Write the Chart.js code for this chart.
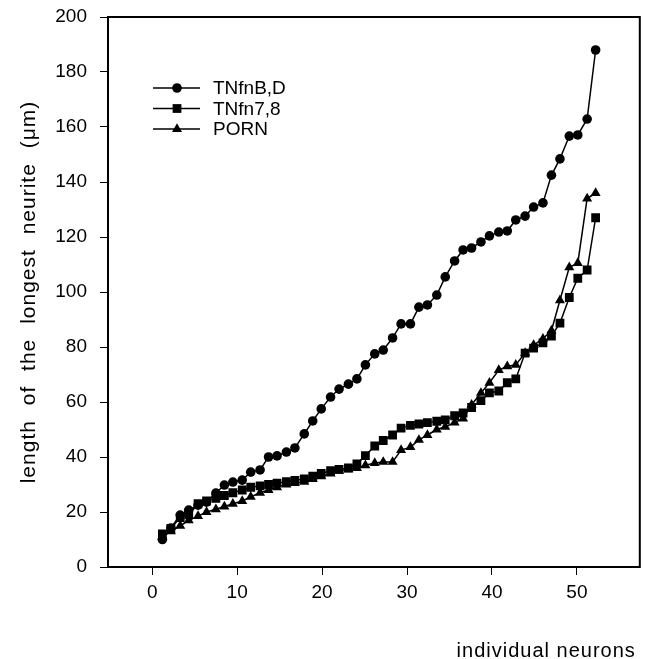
<!DOCTYPE html>
<html>
<head>
<meta charset="utf-8">
<script src="https://cdn.jsdelivr.net/npm/chart.js@4"></script>
<style>
  html, body { margin: 0; padding: 0; background: #fff; }
  #wrap { width: 646px; height: 659px; }
</style>
</head>
<body>
<div id="wrap"><canvas id="c" width="646" height="659"></canvas></div>
<script>
// ── DATA ─────────────────────────────────────────────────────────────────
// x position of each neuron
const neuronPos = [1.2, 2.2, 3.3, 4.3, 5.4, 6.4, 7.5, 8.5, 9.5, 10.6,
  11.6, 12.7, 13.7, 14.7, 15.8, 16.8, 17.9, 18.9, 19.9, 21.0,
  22.0, 23.1, 24.1, 25.1, 26.2, 27.2, 28.3, 29.3, 30.4, 31.4,
  32.4, 33.5, 34.5, 35.6, 36.6, 37.6, 38.7, 39.7, 40.8, 41.8,
  42.8, 43.9, 44.9, 46.0, 47.0, 48.0, 49.1, 50.1, 51.2, 52.2];

const seriesNames = ['TNfnB,D', 'TNfn7,8', 'PORN'];

const tnfnBD = [10, 14.2, 18.9, 20.7, 22.5, 23.6, 26.9, 29.8, 30.9, 31.6,
  34.5, 35.3, 40, 40.4, 41.8, 43.3, 48.4, 53.1, 57.5, 61.8,
  64.7, 66.5, 68.4, 73.5, 77.5, 78.9, 83.3, 88.4, 88.4, 94.5,
  95.3, 98.9, 105.5, 111.3, 115.3, 116, 118.2, 120.4, 121.8, 122.2,
  126.2, 127.6, 130.9, 132.4, 142.5, 148.4, 156.7, 157.1, 162.9, 188];

const tnfn78 = [12, 14, 18, 19, 23, 24, 25, 26, 27, 28,
  29, 29.5, 30, 30.5, 31, 31.5, 32, 33, 34, 35,
  35.5, 36, 37.5, 40.5, 44, 46, 48, 50.5, 51.5, 52,
  52.5, 53, 53.5, 55, 56, 58, 60.5, 63.3, 64, 67,
  68.4, 77.8, 79.6, 81.5, 84, 88.7, 98, 105, 108, 127];

const porn = [11, 13, 15, 17, 18.5, 20, 21, 22, 23, 24,
  25.5, 27, 28, 29, 30, 30.5, 31, 32, 33, 34,
  35, 35.5, 36, 37, 37.8, 38.2, 38.2, 42.5, 43.6, 46.2,
  48, 50, 51, 52.5, 54, 59, 63.3, 67, 71.6, 73,
  73.5, 77.8, 80.7, 83, 86, 97, 109, 110.5, 134, 136];

const xTicks = [0, 10, 20, 30, 40, 50];
const yTicks = [0, 20, 40, 60, 80, 100, 120, 140, 160, 180, 200];

const xTitle = 'individual neurons';
const yTitle = 'length of the longest neurite (\u03bcm)';

// ── STYLE ────────────────────────────────────────────────────────────────
const FONT = "'Liberation Sans', Arial, sans-serif";
const INK  = '#000';

const toPoints = ys => ys.map((y, i) => ({ x: neuronPos[i], y }));

function series(label, ys, style, radius) {
  return {
    label,
    data: toPoints(ys),
    borderColor: INK,
    backgroundColor: INK,
    borderWidth: 1.5,
    pointStyle: style,
    pointRadius: radius,
    pointBorderWidth: 0,
    pointBackgroundColor: INK,
    tension: 0,
  };
}

// Full box around the plot area
const framePlugin = {
  id: 'frame',
  afterDatasetsDraw(chart) {
    const { ctx, chartArea: a } = chart;
    ctx.save();
    ctx.strokeStyle = INK;
    ctx.lineWidth = 2;
    ctx.strokeRect(a.left, a.top, a.right - a.left, a.bottom - a.top);
    ctx.restore();
  },
};

// Axis titles, drawn by hand so the loose letter spacing of the original can be kept
const titlesPlugin = {
  id: 'titles',
  afterDraw(chart) {
    const { ctx, chartArea: a } = chart;
    ctx.save();
    ctx.fillStyle = INK;
    ctx.textBaseline = 'middle';
    ctx.letterSpacing = '1px';

    ctx.font = `20px ${FONT}`;
    ctx.textAlign = 'right';
    ctx.fillText(xTitle, a.right - 4, 651);

    ctx.font = `21px ${FONT}`;
    ctx.wordSpacing = '8px';
    ctx.textAlign = 'center';
    ctx.translate(29, (a.top + a.bottom) / 2);
    ctx.rotate(-Math.PI / 2);
    ctx.fillText(yTitle, 0, 0);
    ctx.restore();
  },
};

// Legend drawn as line + marker, inside the plot at upper left
const lineLegendPlugin = {
  id: 'lineLegend',
  afterDraw(chart) {
    const { ctx, chartArea: a } = chart;
    ctx.save();
    ctx.font = `19px ${FONT}`;
    ctx.textBaseline = 'middle';
    chart.data.datasets.forEach((ds, i) => {
      const y = a.top + 71 + i * 20.5;
      ctx.strokeStyle = INK;
      ctx.fillStyle = INK;
      ctx.lineWidth = 1.5;
      ctx.beginPath();
      ctx.moveTo(a.left + 45, y);
      ctx.lineTo(a.left + 92, y);
      ctx.stroke();
      Chart.helpers.drawPoint(ctx, {
        pointStyle: ds.pointStyle, radius: ds.pointRadius, rotation: 0, borderWidth: 0,
      }, a.left + 69, y);
      ctx.fillStyle = INK;
      ctx.fillText(ds.label, a.left + 105, y + 1);
    });
    ctx.restore();
  },
};

new Chart(document.getElementById('c'), {
  type: 'line',
  data: {
    datasets: [
      series(seriesNames[0], tnfnBD, 'circle', 4.8),
      series(seriesNames[1], tnfn78, 'rect', 6.2),
      series(seriesNames[2], porn, 'triangle', 5.8),
    ],
  },
  options: {
    responsive: false,
    animation: false,
    layout: { padding: { top: 17, right: 4, left: 0, bottom: 0 } },
    plugins: { legend: { display: false }, tooltip: { enabled: false } },
    scales: {
      x: {
        type: 'linear',
        min: -5.2,
        max: 57.4,
        afterBuildTicks: s => { s.ticks = xTicks.map(v => ({ value: v })); },
        afterFit: s => { s.height = 92; s.paddingLeft = 0; s.paddingRight = 0; },
        ticks: { color: INK, font: { family: FONT, size: 19 }, padding: 6, autoSkip: false, maxRotation: 0 },
        grid: { display: true, drawOnChartArea: false, drawTicks: true, tickLength: 8, color: INK, lineWidth: 1 },
        border: { display: true, color: INK, width: 2 },
      },
      y: {
        min: 0,
        max: 200,
        afterBuildTicks: s => { s.ticks = yTicks.map(v => ({ value: v })); },
        afterFit: s => { s.width = 108; s.paddingTop = 0; s.paddingBottom = 0; },
        ticks: { color: INK, font: { family: FONT, size: 19 }, padding: 13 },
        grid: { display: true, drawOnChartArea: false, drawTicks: true, tickLength: 8, color: INK, lineWidth: 1 },
        border: { display: true, color: INK, width: 2 },
      },
    },
  },
  plugins: [framePlugin, titlesPlugin, lineLegendPlugin],
});
</script>
</body>
</html>
